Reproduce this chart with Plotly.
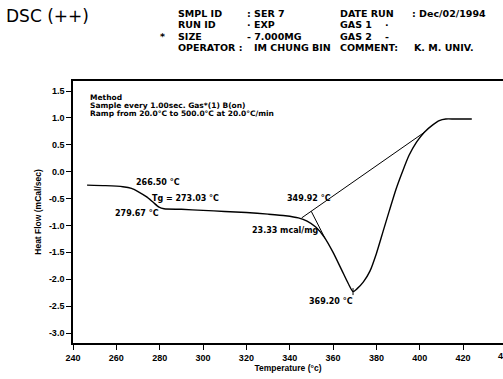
import plotly.graph_objects as go

# ---------------- data ----------------
temperature_c = [246.5, 255, 263, 267, 270, 274, 277, 279.7, 282, 290, 300, 310, 320,
                 330, 338, 344, 348, 352, 356, 360, 364, 367, 369.2, 371, 374, 377,
                 380, 383, 386, 389, 392, 395, 398.5, 402, 406, 409, 412, 416, 424]
heat_flow = [-0.25, -0.26, -0.28, -0.31, -0.37, -0.47, -0.57, -0.66, -0.69, -0.70,
             -0.72, -0.74, -0.76, -0.79, -0.82, -0.86, -0.92, -1.03, -1.22, -1.50,
             -1.83, -2.08, -2.23, -2.18, -2.05, -1.85, -1.52, -1.12, -0.72, -0.33,
             0.00, 0.30, 0.55, 0.73, 0.87, 0.95, 0.98, 0.98, 0.98]

baseline_t = [345.5, 402.4]
baseline_hf = [-0.86, 0.74]
tangent_t = [349.92, 356.3]
tangent_hf = [-0.736, -1.24]
peak_t = [369.2]
peak_hf = [-2.23]

x_ticks = [240, 260, 280, 300, 320, 340, 360, 380, 400, 420]
y_ticks = [1.5, 1.0, 0.5, 0.0, -0.5, -1.0, -1.5, -2.0, -2.5, -3.0]
y_tick_text = ["1.5", "1.0", "0.5", "0.0", "-0.5", "-1.0", "-1.5", "-2.0", "-2.5", "-3.0"]

# ---------------- layout helpers ----------------
L, R, T, B = 73, 503, 81, 343
def pxx(px):
    return (px - L) / (R - L)
def pxy(py):
    return (B - py) / (B - T)

HFONT = dict(family="DejaVu Sans", size=9.5, color="black", weight="bold")
AFONT = dict(family="DejaVu Sans", size=8, color="black", weight="bold")
MFONT = dict(family="DejaVu Sans", size=7.5, color="black", weight="bold")
TFONT = dict(family="Liberation Sans, Arial", size=9, color="black", weight="bold")

fig = go.Figure()
fig.add_trace(go.Scatter(x=temperature_c, y=heat_flow, mode="lines",
                         line=dict(color="black", width=1.4, shape="spline", smoothing=0.6),
                         hoverinfo="skip", showlegend=False))
fig.add_trace(go.Scatter(x=baseline_t, y=baseline_hf, mode="lines",
                         line=dict(color="black", width=1), showlegend=False))
fig.add_trace(go.Scatter(x=tangent_t, y=tangent_hf, mode="lines",
                         line=dict(color="black", width=1), showlegend=False))
fig.add_trace(go.Scatter(x=peak_t, y=peak_hf, mode="markers",
                         marker=dict(symbol="line-ns", size=5, line=dict(color="black", width=1)),
                         showlegend=False))

ann = []
def add_px(text, xp, yp, font, xanchor="left"):
    ann.append(dict(text=text, x=pxx(xp), y=pxy(yp), xref="paper", yref="paper",
                    xanchor=xanchor, yanchor="middle", showarrow=False, font=font))

# header
add_px("DSC (++)", 4, 16, dict(family="DejaVu Sans", size=17, color="black"))
header = [
    ("SMPL ID", 176, 13), (": SER 7", 245, 13), ("DATE RUN", 338, 13), (": Dec/02/1994", 410, 13),
    ("RUN ID", 176, 24.5), ("· EXP", 245, 24.5), ("GAS 1", 338, 24.5), ("·", 383, 24.5),
    ("*", 158, 36), ("SIZE", 176, 36), ("- 7.000MG", 245, 36), ("GAS 2", 338, 36), ("-", 383, 36),
    ("OPERATOR :", 176, 47.5), ("IM CHUNG BIN", 252, 47.5), ("COMMENT:", 338, 47.5), ("K. M. UNIV.", 412, 47.5),
]
for t, xp, yp in header:
    add_px(t, xp, yp, HFONT)

# method text
add_px("Method", 88, 97.5, MFONT)
add_px("Sample every 1.00sec. Gas*(1) B(on)", 88, 105.5, MFONT)
add_px("Ramp from 20.0°C to 500.0°C at 20.0°C/min", 88, 113.5, MFONT)

# peak / transition labels
add_px("266.50 °C", 134, 182, AFONT)
add_px("Tg = 273.03 °C", 150, 198, AFONT)
add_px("279.67 °C", 113, 213.5, AFONT)
add_px("349.92 °C", 285, 198, AFONT)
add_px("23.33 mcal/mg", 250, 230, AFONT)
add_px("369.20 °C", 307, 301, AFONT)

# partially visible 440 tick label at the right edge (cropped in the original scan)
ann.append(dict(text="440", x=pxx(506), y=pxy(356), xref="paper", yref="paper",
                xanchor="center", yanchor="middle", showarrow=False, font=TFONT))

fig.update_layout(
    width=503, height=379,
    margin=dict(l=L, r=503 - R, t=T, b=379 - B, pad=0),
    paper_bgcolor="white", plot_bgcolor="white",
    showlegend=False,
    annotations=ann,
    xaxis=dict(range=[240, 438.4], tickvals=x_ticks, ticks="outside", ticklen=5, tickwidth=1.2,
               tickcolor="black", showline=True, linecolor="black", linewidth=1.6, mirror=True,
               showgrid=False, zeroline=False, tickfont=TFONT,
               title=dict(text="Temperature (°c)", standoff=2,
                          font=dict(family="Liberation Sans, Arial", size=8.5, color="black", weight="bold"))),
    yaxis=dict(range=[-3.186, 1.686], tickvals=y_ticks, ticktext=y_tick_text, ticks="outside",
               ticklen=5, tickwidth=1.2, tickcolor="black", showline=True, linecolor="black",
               linewidth=1.6, showgrid=False, zeroline=False, tickfont=TFONT,
               title=dict(text="Heat Flow (mCal/sec)", standoff=6,
                          font=dict(family="Liberation Sans, Arial", size=8.5, color="black", weight="bold"))),
)

fig.write_html("out.html")
